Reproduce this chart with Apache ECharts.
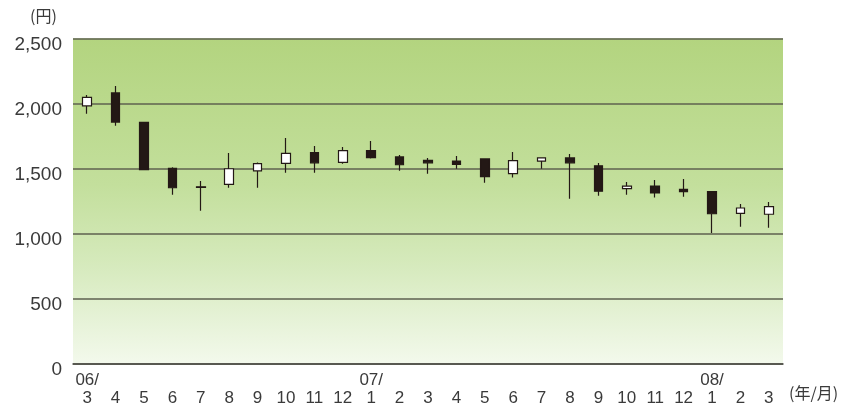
<!DOCTYPE html>
<html><head><meta charset="utf-8">
<script src="https://cdn.jsdelivr.net/npm/echarts@6/dist/echarts.min.js"></script>
<style>html,body{margin:0;padding:0;background:#fff}#c{width:841px;height:403px}</style>
</head><body><div id="c"></div>
<script>
var categories = ['06/\n3','4','5','6','7','8','9','10','11','12','07/\n1','2','3','4','5','6','7','8','9','10','11','12','08/\n1','2','3'];
var openVals  = [1981,2081,1855,1501,1359,1378,1481,1540,1622,1547,1637,1589,1563,1557,1574,1460,1557,1581,1521,1345,1365,1340,1322,1155,1148];
var closeVals = [2047,1857,1491,1352,1354,1498,1537,1617,1544,1637,1584,1529,1544,1532,1437,1560,1581,1544,1325,1365,1312,1322,1152,1196,1206];
var lowVals   = [1922,1829,1488,1299,1175,1352,1352,1468,1468,1537,1576,1483,1460,1498,1390,1430,1498,1268,1291,1299,1276,1283,1003,1052,1044];
var highVals  = [2065,2135,1857,1509,1403,1619,1547,1734,1673,1665,1711,1604,1581,1596,1574,1627,1581,1612,1542,1396,1412,1420,1322,1227,1242];
var yTicks = [0,500,1000,1500,2000,2500];

var data = categories.map(function(c,i){return [openVals[i],closeVals[i],lowVals[i],highVals[i]];});
var chart = echarts.init(document.getElementById('c'));
var font = '"Liberation Sans", Arial, sans-serif';
chart.setOption({
  animation:false,
  grid:{left:73,right:58,top:38.5,bottom:39.5,show:true,borderWidth:0,containLabel:false,outerBoundsMode:'none',
    backgroundColor:{type:'linear',x:0,y:0,x2:0,y2:1,colorStops:[
      {offset:0,color:'#b3d47f'},{offset:0.45,color:'#c3df9c'},{offset:0.7,color:'#d6eabd'},{offset:1,color:'#f3f9ec'}]}},
  xAxis:{type:'category',data:categories,boundaryGap:true,
    axisLine:{lineStyle:{color:'#4a4a44',width:1.5}},
    axisTick:{alignWithLabel:true,inside:true,length:7,lineStyle:{color:'#5a5a54',width:1}},
    axisLabel:{color:'#3a3a3a',fontSize:17,fontFamily:font,lineHeight:18,margin:8,interval:0,
      formatter:function(v){return v.indexOf('\n')>=0?v:'\n'+v;}}},
  yAxis:{type:'value',min:yTicks[0],max:yTicks[yTicks.length-1],interval:500,
    axisLine:{show:false},axisTick:{show:false},
    axisLabel:{color:'#3a3a3a',fontSize:19,fontFamily:font,margin:11,verticalAlign:'top',lineHeight:12,
      formatter:function(v){return v.toLocaleString('en-US');}},
    splitLine:{lineStyle:{color:'#5e604f',width:1.5}}},
  graphic:[
    {type:'text',left:30,top:8,style:{text:'(円)',fill:'#3a3a3a',font:'16px "Noto Sans CJK JP", sans-serif'}},
    {type:'text',left:789,top:385,style:{text:'(年/月)',fill:'#3a3a3a',font:'16px "Noto Sans CJK JP", sans-serif'}}
  ],
  series:[{type:'candlestick',data:data,barWidth:9,
    itemStyle:{color:'#ffffff',color0:'#231815',borderColor:'#231815',borderColor0:'#231815',borderWidth:1.2}}]
});
</script></body></html>
